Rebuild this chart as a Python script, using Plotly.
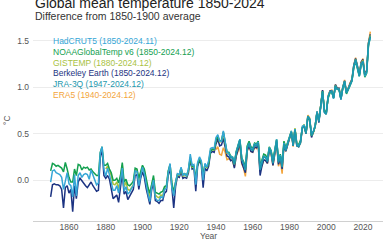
import plotly.graph_objects as go

# ---------------- data (°C, difference from 1850-1900 average) ----------------
years_1850 = list(range(1850, 2025))
years_1880 = list(range(1880, 2025))
years_1947 = list(range(1947, 2025))
years_1940 = list(range(1940, 2025))

hadcrut5 = [
    -0.02, 0.10, 0.11, 0.08, 0.07, 0.06, 0.03, -0.10, -0.01, 0.08,
    -0.04, -0.06, -0.18, 0.06, -0.17, 0.05, 0.08, 0.03, 0.06, 0.07,
    0.06, 0.01, 0.11, 0.06, 0.00, -0.05, -0.03, 0.29, 0.36, 0.12,
    0.04, 0.13, 0.06, -0.02, -0.11, -0.11, -0.06, -0.14, -0.01, 0.13,
    -0.12, -0.07, -0.15, -0.13, -0.09, -0.06, 0.10, 0.09, -0.06, 0.06,
    0.14, 0.07, -0.06, -0.15, -0.23, -0.07, 0.00, -0.19, -0.22, -0.22,
    -0.18, -0.19, -0.10, -0.09, 0.08, 0.18, -0.08, -0.17, -0.03, 0.07,
    0.06, 0.14, 0.05, 0.07, 0.04, 0.12, 0.28, 0.16, 0.17, -0.05,
    0.19, 0.25, 0.21, 0.00, 0.18, 0.14, 0.21, 0.34, 0.35, 0.34,
    0.46, 0.49, 0.42, 0.42, 0.53, 0.41, 0.30, 0.29, 0.25, 0.25,
    0.19, 0.30, 0.37, 0.44, 0.24, 0.18, 0.11, 0.35, 0.40, 0.34,
    0.33, 0.39, 0.38, 0.41, 0.12, 0.20, 0.26, 0.25, 0.21, 0.35,
    0.31, 0.19, 0.30, 0.44, 0.20, 0.27, 0.15, 0.40, 0.33, 0.40,
    0.45, 0.53, 0.38, 0.55, 0.38, 0.37, 0.41, 0.58, 0.59, 0.52,
    0.69, 0.66, 0.49, 0.53, 0.59, 0.74, 0.64, 0.79, 0.95, 0.73,
    0.71, 0.90, 0.95, 0.96, 0.88, 1.01, 0.98, 0.98, 0.87, 0.99,
    1.06, 0.94, 0.98, 1.03, 1.07, 1.22, 1.29, 1.21, 1.12, 1.25,
    1.28, 1.12, 1.16, 1.46, 1.53,
]

noaa_v6 = [
    0.10, 0.18, 0.17, 0.15, 0.16, 0.14, 0.13, 0.09, 0.19, 0.12,
    0.03, -0.02, -0.02, 0.12, 0.05, 0.17, 0.16, 0.11, 0.14, 0.13,
    0.14, 0.11, 0.12, 0.09, 0.07, 0.05, 0.05, 0.30, 0.36, 0.16,
    0.16, 0.18, 0.12, 0.08, 0.00, 0.00, 0.02, -0.03, 0.05, 0.19,
    -0.02, 0.01, -0.05, -0.06, -0.04, -0.01, 0.13, 0.12, 0.02, 0.10,
    0.16, 0.12, 0.01, -0.08, -0.14, -0.02, 0.05, -0.13, -0.14, -0.15,
    -0.13, -0.12, -0.07, -0.06, 0.10, 0.17, -0.03, -0.13, -0.02, 0.06,
    0.06, 0.13, 0.06, 0.07, 0.05, 0.11, 0.24, 0.15, 0.15, 0.02,
    0.17, 0.22, 0.19, 0.06, 0.17, 0.14, 0.18, 0.31, 0.33, 0.33,
    0.43, 0.47, 0.42, 0.43, 0.52, 0.42, 0.30, 0.30, 0.26, 0.25,
    0.18, 0.31, 0.38, 0.44, 0.24, 0.20, 0.14, 0.37, 0.42, 0.36,
    0.34, 0.40, 0.39, 0.42, 0.15, 0.21, 0.28, 0.27, 0.23, 0.36,
    0.32, 0.21, 0.31, 0.44, 0.22, 0.28, 0.18, 0.42, 0.35, 0.41,
    0.46, 0.52, 0.39, 0.55, 0.39, 0.38, 0.43, 0.57, 0.59, 0.51,
    0.68, 0.65, 0.48, 0.52, 0.59, 0.73, 0.64, 0.81, 0.96, 0.75,
    0.73, 0.88, 0.94, 0.95, 0.89, 1.01, 0.98, 0.97, 0.88, 0.99,
    1.05, 0.93, 0.97, 1.02, 1.07, 1.21, 1.28, 1.20, 1.12, 1.24,
    1.27, 1.11, 1.15, 1.45, 1.54,
]

gistemp = [
    0.12, 0.15, 0.11, 0.05, -0.04, -0.05, -0.02, -0.09, 0.02, 0.16,
    -0.07, -0.02, -0.10, -0.11, -0.08, -0.05, 0.11, 0.11, -0.01, 0.08,
    0.15, 0.10, -0.02, -0.11, -0.19, -0.05, 0.02, -0.16, -0.18, -0.19,
    -0.16, -0.17, -0.09, -0.08, 0.09, 0.16, -0.05, -0.15, -0.03, 0.06,
    0.05, 0.13, 0.04, 0.06, 0.04, 0.10, 0.25, 0.14, 0.15, 0.00,
    0.18, 0.23, 0.20, 0.05, 0.17, 0.13, 0.19, 0.32, 0.34, 0.32,
    0.44, 0.48, 0.41, 0.42, 0.51, 0.40, 0.29, 0.29, 0.25, 0.24,
    0.17, 0.30, 0.37, 0.43, 0.23, 0.19, 0.13, 0.36, 0.41, 0.35,
    0.33, 0.39, 0.38, 0.41, 0.14, 0.20, 0.27, 0.26, 0.22, 0.35,
    0.31, 0.20, 0.30, 0.43, 0.21, 0.27, 0.17, 0.41, 0.34, 0.40,
    0.46, 0.53, 0.39, 0.56, 0.39, 0.38, 0.42, 0.57, 0.60, 0.51,
    0.69, 0.66, 0.48, 0.52, 0.58, 0.74, 0.64, 0.80, 0.96, 0.74,
    0.72, 0.89, 0.95, 0.95, 0.89, 1.02, 0.98, 0.98, 0.88, 1.00,
    1.06, 0.94, 0.98, 1.03, 1.08, 1.22, 1.30, 1.21, 1.13, 1.26,
    1.29, 1.13, 1.17, 1.47, 1.56,
]

berkeley = [
    -0.18, -0.05, -0.04, -0.05, -0.05, -0.06, -0.10, -0.30, -0.08, -0.06,
    -0.14, -0.10, -0.34, -0.06, -0.20, -0.02, 0.02, -0.01, -0.03, -0.06,
    -0.08, -0.05, -0.02, -0.06, -0.09, -0.12, -0.11, 0.24, 0.34, 0.05,
    0.02, 0.05, 0.01, -0.08, -0.20, -0.18, -0.16, -0.24, -0.06, 0.08,
    -0.15, -0.12, -0.21, -0.17, -0.13, -0.10, 0.05, 0.06, -0.10, 0.02,
    0.09, 0.03, -0.09, -0.17, -0.26, -0.10, -0.03, -0.22, -0.23, -0.25,
    -0.22, -0.22, -0.14, -0.12, 0.05, 0.13, -0.10, -0.30, -0.07, 0.04,
    0.03, 0.09, 0.02, 0.03, 0.02, 0.08, 0.22, 0.12, 0.13, -0.12,
    0.15, 0.21, 0.17, -0.08, 0.13, 0.10, 0.15, 0.29, 0.31, 0.30,
    0.39, 0.44, 0.37, 0.38, 0.45, 0.36, 0.26, 0.25, 0.21, 0.22,
    0.13, 0.26, 0.33, 0.40, 0.19, 0.14, 0.08, 0.32, 0.37, 0.31,
    0.30, 0.36, 0.35, 0.38, 0.05, 0.15, 0.22, 0.21, 0.18, 0.32,
    0.29, 0.16, 0.27, 0.41, 0.17, 0.24, 0.12, 0.38, 0.31, 0.39,
    0.44, 0.52, 0.37, 0.55, 0.37, 0.36, 0.41, 0.56, 0.59, 0.50,
    0.68, 0.65, 0.46, 0.51, 0.58, 0.74, 0.62, 0.80, 0.97, 0.74,
    0.72, 0.89, 0.96, 0.96, 0.89, 1.03, 0.99, 0.99, 0.87, 1.00,
    1.07, 0.94, 0.99, 1.04, 1.09, 1.24, 1.31, 1.23, 1.14, 1.27,
    1.30, 1.14, 1.18, 1.48, 1.57,
]

jra3q = [
    0.28, 0.24, 0.24,
    0.17, 0.29, 0.36, 0.43, 0.22, 0.18, 0.11, 0.34, 0.40, 0.33,
    0.32, 0.38, 0.37, 0.40, 0.11, 0.19, 0.25, 0.24, 0.20, 0.34,
    0.30, 0.18, 0.29, 0.43, 0.19, 0.26, 0.14, 0.39, 0.32, 0.39,
    0.44, 0.52, 0.37, 0.54, 0.37, 0.36, 0.40, 0.56, 0.58, 0.50,
    0.69, 0.66, 0.48, 0.52, 0.58, 0.73, 0.63, 0.79, 0.96, 0.73,
    0.71, 0.90, 0.95, 0.96, 0.88, 1.02, 0.98, 0.98, 0.87, 0.99,
    1.07, 0.94, 0.98, 1.03, 1.07, 1.23, 1.30, 1.22, 1.12, 1.25,
    1.28, 1.13, 1.17, 1.47, 1.55,
]

era5 = [
    0.33, 0.36, 0.28, 0.27, 0.35, 0.30, 0.22, 0.23, 0.22, 0.21,
    0.14, 0.26, 0.31, 0.38, 0.18, 0.13, 0.04, 0.31, 0.37, 0.31,
    0.30, 0.36, 0.34, 0.37, 0.09, 0.16, 0.22, 0.21, 0.18, 0.31,
    0.28, 0.16, 0.26, 0.40, 0.15, 0.22, 0.07, 0.37, 0.31, 0.38,
    0.44, 0.51, 0.36, 0.55, 0.37, 0.36, 0.40, 0.56, 0.58, 0.50,
    0.70, 0.67, 0.47, 0.51, 0.58, 0.74, 0.63, 0.80, 0.97, 0.74,
    0.71, 0.91, 0.96, 0.97, 0.89, 1.03, 0.99, 0.99, 0.88, 1.00,
    1.08, 0.95, 0.99, 1.05, 1.08, 1.24, 1.32, 1.22, 1.14, 1.27,
    1.31, 1.14, 1.17, 1.48, 1.60,
]

legend_labels = [
    "HadCRUT5 (1850-2024.11)",
    "NOAAGlobalTemp v6 (1850-2024.12)",
    "GISTEMP (1880-2024.12)",
    "Berkeley Earth (1850-2024.12)",
    "JRA-3Q (1947-2024.12)",
    "ERA5 (1940-2024.12)",
]
colors = ["#35a6d6", "#13a04f", "#a9c23f", "#1c3382", "#1c97ad", "#f3a53c"]

y_ticks = [0.0, 0.5, 1.0, 1.5]
x_ticks = [1860, 1880, 1900, 1920, 1940, 1960, 1980, 2000, 2020]

series = [
    (years_1850, hadcrut5),
    (years_1850, noaa_v6),
    (years_1880, gistemp),
    (years_1850, berkeley),
    (years_1947, jra3q),
    (years_1940, era5),
]

FONT = "Liberation Sans"
fig = go.Figure()
# draw bottom-to-top: ERA5, Berkeley, GISTEMP, NOAA, HadCRUT5, JRA-3Q
for idx in [5, 3, 2, 1, 0, 4]:
    xs, ys = series[idx]
    fig.add_trace(go.Scatter(
        x=xs, y=ys, mode="lines", name=legend_labels[idx],
        line=dict(color=colors[idx], width=1.5), hoverinfo="skip",
    ))

L, R, T, B = 33, 7, 27, 19
W, H = 390, 240
ph = H - T - B

annotations = []
legend_px = [41, 52, 62.7, 73.3, 84, 95]
for lab, col, py in zip(legend_labels, colors, legend_px):
    annotations.append(dict(
        text=lab, xref="paper", yref="paper",
        x=(51 - L) / (W - L - R), y=(H - B - py) / ph,
        xanchor="left", yanchor="middle", showarrow=False,
        font=dict(family=FONT, size=8.5, color=col),
    ))

annotations += [
    dict(text="Global mean temperature 1850-2024", xref="paper", yref="paper",
         x=0, y=(H - B - 3.5) / ph, xanchor="left", yanchor="middle", showarrow=False,
         font=dict(family=FONT, size=14, color="#222222")),
    dict(text="Difference from 1850-1900 average", xref="paper", yref="paper",
         x=0, y=(H - B - 16) / ph, xanchor="left", yanchor="middle", showarrow=False,
         font=dict(family=FONT, size=10.5, color="#333333")),
    dict(text="°C", xref="paper", yref="paper",
         x=(7 - L) / (W - L - R), y=(H - B - 120) / ph, xanchor="center", yanchor="middle",
         textangle=-90, showarrow=False,
         font=dict(family=FONT, size=8.5, color="#555555")),
    dict(text="Year", xref="paper", yref="paper",
         x=0.5, y=(H - B - 236) / ph, xanchor="center", yanchor="middle", showarrow=False,
         font=dict(family=FONT, size=8.5, color="#555555")),
]

fig.update_layout(
    width=W, height=H,
    margin=dict(l=L, r=R, t=T, b=B, pad=0),
    paper_bgcolor="white", plot_bgcolor="white",
    showlegend=False,
    annotations=annotations,
    font=dict(family=FONT, size=8.5, color="#555555"),
)
fig.update_xaxes(
    range=[1840.4, 2030.9], tickvals=x_ticks, ticktext=[str(v) for v in x_ticks],
    showgrid=False, zeroline=False, showline=True, linecolor="#d0d0d0", linewidth=1,
    ticks="", ticklabelstandoff=-2, tickfont=dict(family=FONT, size=8.5, color="#555555"),
)
fig.update_yaxes(
    range=[-0.44, 1.65], tickvals=y_ticks, ticktext=[f"{v:.1f}" for v in y_ticks],
    showgrid=True, gridcolor="#ececec", gridwidth=1, zeroline=False,
    ticks="", ticklabelstandoff=3, tickfont=dict(family=FONT, size=8.5, color="#555555"),
)

fig.write_html("out.html")
